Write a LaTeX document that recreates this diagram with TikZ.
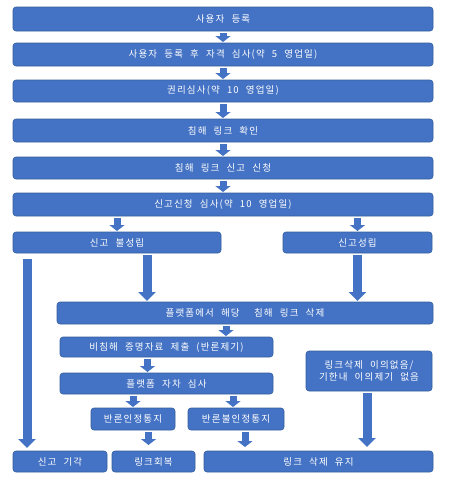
\documentclass[tikz,border=0pt]{standalone}
\usepackage{fontspec}
\newfontfamily\kr[LetterSpace=12,WordSpace=2.2]{Noto Sans CJK KR}
\usetikzlibrary{arrows.meta}
\definecolor{boxblue}{HTML}{4472C4}
\definecolor{edgeblue}{HTML}{35609F}
\tikzset{
  box/.style={draw=edgeblue, line width=0.6pt, fill=boxblue, rounded corners=3pt,
    text=white, inner sep=0pt, outer sep=0pt, anchor=north west, align=center,
    font=\kr\fontsize{9.5}{12}\selectfont},
  sarr/.style={draw=boxblue, line width=7pt, -{Triangle[width=15pt,length=6pt]}, shorten <=2pt, shorten >=1pt},
  barr/.style={draw=boxblue, line width=9pt, -{Triangle[width=17pt,length=9pt]}, shorten <=2pt, shorten >=1pt}
}
\newcommand{\bx}[6]{\node[box, minimum width=#4-#2, minimum height=#5-#3] (#1) at (#2,#3) {#6};}
\begin{document}
\begin{tikzpicture}[x=1pt,y=-1pt]
\useasboundingbox[fill=white] (0,0) rectangle (448,479);
\bx{b1}{13}{7}{433}{31}{사용자 등록}
\bx{b2}{13}{43}{433}{66}{사용자 등록 후 자격 심사(약 5 영업일)}
\bx{b3}{13}{80}{433}{102}{권리심사(약 10 영업일)}
\bx{b4}{13}{119}{433}{142}{침해 링크 확인}
\bx{b5}{13}{157}{433}{179}{침해 링크 신고 신청}
\bx{b6}{13}{193}{433}{216}{신고신청 심사(약 10 영업일)}
\bx{nf}{13}{232}{221}{253}{신고 불성립}
\bx{ok}{283}{232}{432}{253}{신고성립}
\bx{del}{57}{302}{433}{324}{플랫폼에서 해당 \ 침해 링크 삭제}
\bx{obj}{60}{337}{273}{357}{비침해 증명자료 제출 (반론제기)}
\bx{rev}{60}{373}{273}{394}{플랫폼 자차 심사}
\bx{noobj}{306}{351}{432}{391}{링크삭제 이의없음/\\기한내 이의제기 없음}
\bx{acc}{91}{408}{175}{430}{반론인정통지}
\bx{rej}{188}{408}{284}{430}{반론불인정통지}
\bx{dis}{13}{451}{107}{472}{신고 기각}
\bx{rec}{112}{451}{195}{472}{링크회복}
\bx{keep}{204}{451}{433}{472}{링크 삭제 유지}

\draw[sarr] (b1.south) -- (b2.north);
\draw[sarr] (b2.south) -- (b3.north);
\draw[sarr] (b3.south) -- (b4.north);
\draw[sarr] (b4.south) -- (b5.north);
\draw[sarr] (b5.south) -- (b6.north);
\draw[sarr] (b6.south -| nf.north) -- (nf.north);
\draw[sarr] (b6.south -| ok.north) -- (ok.north);
\draw[barr] ([xshift=30pt]nf.south) -- ([xshift=30pt]nf.south |- del.north);
\draw[barr] (ok.south) -- (ok.south |- del.north);
\coordinate (lstart) at ([shift={(14,6)}]nf.south west);
\draw[barr, shorten <=0pt, shorten >=3pt] (lstart) -- (lstart |- dis.north);
\draw[sarr] ([xshift=-19pt]del.south) -- ([xshift=-19pt]del.south |- obj.north);
\draw[sarr] ([xshift=-19pt]obj.south) -- ([xshift=-19pt]obj.south |- rev.north);
\draw[sarr] (rev.south -| acc.north) -- (acc.north);
\draw[sarr] ([xshift=-3pt]rev.south -| rej.north) -- ([xshift=-3pt]rej.north);
\draw[sarr, shorten >=6pt] ([xshift=-5pt]acc.south -| rec.north) -- ([xshift=-5pt]rec.north);
\draw[sarr, shorten >=4pt] (rej.south -| 245,0) -- (keep.north -| 245,0);
\draw[barr, shorten >=4pt] ([xshift=-2pt]noobj.south) -- ([xshift=-2pt]noobj.south |- keep.north);
\end{tikzpicture}
\end{document}
